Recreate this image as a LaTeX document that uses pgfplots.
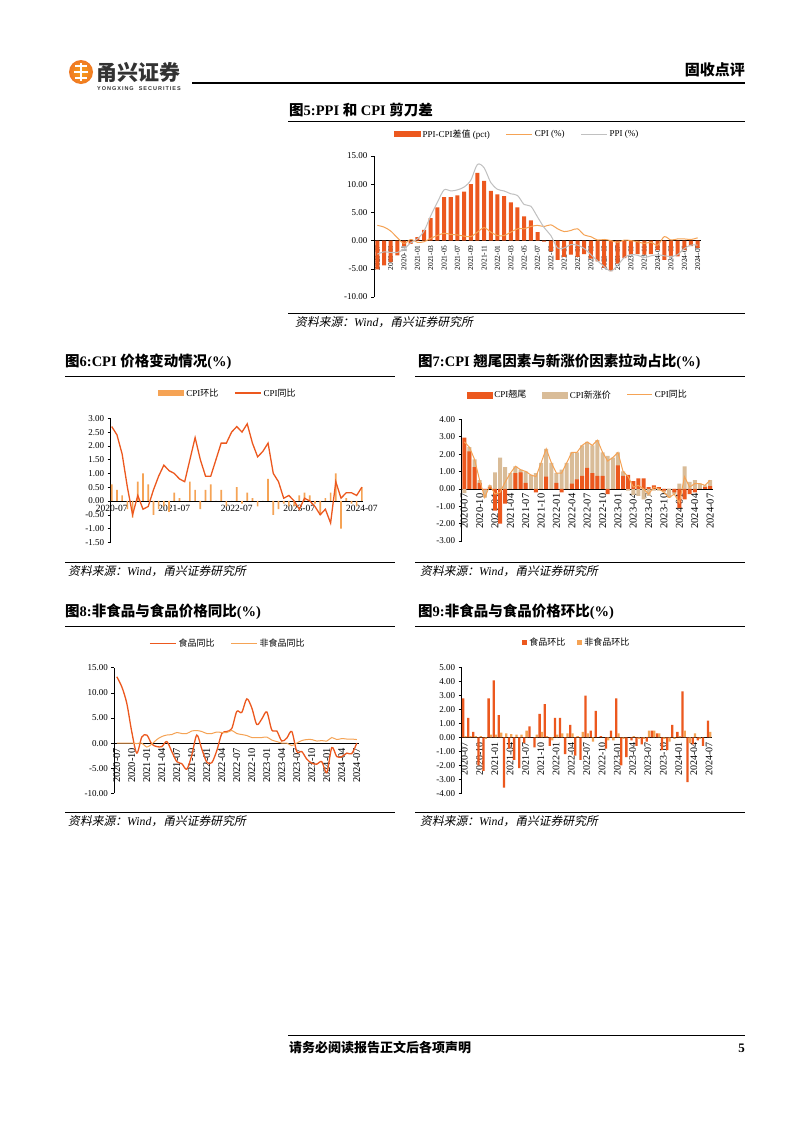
\documentclass[border=0pt]{standalone}
\usepackage{fontspec}
\usepackage{pgfplots}
\usepackage{pgfplotstable}
\pgfplotsset{compat=1.18}
\setmainfont{Liberation Serif}
\setsansfont{Liberation Sans}
\newfontfamily\cjk{Noto Sans CJK SC}
\newfontfamily\cjkit[FakeSlant=0.2]{Noto Sans CJK SC}
\newfontfamily\logofont[LetterSpace=18]{Liberation Sans}
\newcommand\zh[1]{{\cjk #1}}
\definecolor{cRed}{RGB}{236,88,30}
\definecolor{cOrg}{RGB}{245,163,85}
\definecolor{cTan}{RGB}{217,188,152}
\definecolor{cGry}{RGB}{192,192,192}
\definecolor{cLogo}{RGB}{240,120,35}

% Fig 5: PPI-CPI
\pgfplotstableread{
i d cpi ppi
0 -5.1 2.7 -2.4
1 -4.4 2.4 -2.0
2 -3.8 1.7 -2.1
3 -2.6 0.5 -2.1
4 -1.0 -0.5 -1.5
5 -0.6 0.2 -0.4
6 0.6 -0.3 0.3
7 1.9 -0.2 1.7
8 4.0 0.4 4.4
9 5.9 0.9 6.8
10 7.7 1.3 9.0
11 7.7 1.1 8.8
12 8.0 1.0 9.0
13 8.7 0.8 9.5
14 10.0 0.7 10.7
15 12.0 1.5 13.5
16 10.6 2.3 12.9
17 8.8 1.5 10.3
18 8.2 0.9 9.1
19 7.9 0.9 8.8
20 6.8 1.5 8.3
21 5.9 2.1 8.0
22 4.3 2.1 6.4
23 3.6 2.5 6.1
24 1.5 2.7 4.2
25 -0.2 2.5 2.3
26 -1.9 2.8 0.9
27 -3.4 2.1 -1.3
28 -2.9 1.6 -1.3
29 -2.5 1.8 -0.7
30 -2.9 2.1 -0.8
31 -2.4 1.0 -1.4
32 -3.2 0.7 -2.5
33 -3.7 0.1 -3.6
34 -4.8 0.2 -4.6
35 -5.4 0.0 -5.4
36 -4.1 -0.3 -4.4
37 -3.1 0.1 -3.0
38 -2.5 0.0 -2.5
39 -2.4 -0.2 -2.6
40 -2.5 -0.5 -3.0
41 -2.4 -0.3 -2.7
42 -1.7 -0.8 -2.5
43 -3.4 0.7 -2.7
44 -2.9 0.1 -2.8
45 -2.8 0.3 -2.5
46 -1.7 0.3 -1.4
47 -1.0 0.2 -0.8
48 -1.3 0.5 -0.8
}\tFive

% Fig 6 and 7: CPI mom, yoy, carry-over, new-price top
\pgfplotstableread{
i mom yoy c t
0 0.6 2.7 2.95 -0.25
1 0.4 2.4 2.15 2.4
2 0.2 1.7 1.25 1.7
3 -0.3 0.5 0.35 0.5
4 -0.6 -0.5 -0.05 -0.5
5 0.7 0.2 0.1 0.2
6 1.0 -0.3 -1.25 0.95
7 0.6 -0.2 -2.0 1.8
8 -0.5 0.4 -0.85 1.25
9 -0.3 0.9 0.0 0.9
10 -0.2 1.3 0.9 1.3
11 -0.4 1.1 0.95 1.1
12 0.3 1.0 0.35 1.0
13 0.1 0.8 0.0 0.8
14 0.0 0.7 -0.2 0.9
15 0.7 1.5 0.0 1.5
16 0.4 2.3 0.7 2.3
17 -0.3 1.5 0.0 1.5
18 0.4 0.9 0.35 0.9
19 0.6 0.9 -0.2 1.1
20 0.0 1.5 0.0 1.5
21 0.4 2.1 0.3 2.1
22 -0.2 2.1 0.55 2.1
23 0.0 2.5 0.75 2.5
24 0.5 2.7 1.2 2.7
25 -0.1 2.5 0.9 2.5
26 0.3 2.8 0.75 2.8
27 0.1 2.1 0.75 2.1
28 -0.2 1.6 -0.3 1.9
29 0.0 1.8 0.0 1.8
30 0.8 2.1 1.35 2.1
31 -0.5 1.0 0.75 1.0
32 -0.3 0.7 0.8 -0.1
33 -0.1 0.1 0.45 -0.35
34 -0.2 0.2 0.6 -0.4
35 -0.2 0.0 0.6 -0.6
36 0.2 -0.3 0.1 -0.4
37 0.3 0.1 0.2 -0.1
38 0.2 0.0 0.1 -0.1
39 -0.1 -0.2 -0.1 -0.2
40 -0.5 -0.5 0.0 -0.5
41 0.1 -0.3 -0.2 -0.3
42 0.3 -0.8 -1.1 0.3
43 1.0 0.7 -0.6 1.3
44 -1.0 0.1 -0.3 0.4
45 0.1 0.3 -0.2 0.5
46 -0.1 0.3 0.0 0.3
47 -0.2 0.2 0.1 0.2
48 0.5 0.5 0.15 0.5
}\tSix

% Fig 8 and 9: food / non-food
\pgfplotstableread{
i fy ny fm nm
0 13.2 0.0 2.8 0.1
1 11.2 0.0 1.4 0.1
2 7.9 0.0 0.4 0.1
3 2.2 0.0 -2.0 0.1
4 -2.0 -0.1 -2.4 -0.1
5 1.2 0.0 2.8 0.2
6 1.6 -0.8 4.1 0.2
7 -0.2 -0.2 1.6 0.35
8 -0.7 0.7 -3.6 0.3
9 -0.7 1.3 -0.8 0.25
10 0.3 1.6 -1.6 0.2
11 -1.7 1.7 -2.2 0.2
12 -3.7 2.1 -0.4 0.5
13 -4.1 1.9 0.8 0.0
14 -5.2 1.9 -0.7 0.2
15 -2.4 2.4 1.7 0.4
16 1.6 2.5 2.4 0.1
17 -1.2 2.3 -0.6 -0.2
18 -3.8 1.9 1.4 0.2
19 -3.9 1.9 1.4 0.3
20 -1.5 2.2 -1.2 0.3
21 1.9 2.1 0.9 0.3
22 2.3 2.1 -1.3 0.1
23 2.9 2.5 -1.6 0.4
24 6.3 1.9 3.0 0.3
25 6.1 1.7 0.5 -0.3
26 8.8 1.5 1.9 0.0
27 7.0 1.1 0.1 0.0
28 3.7 1.1 -0.8 -0.2
29 4.8 1.1 0.5 -0.2
30 6.2 1.2 2.8 0.3
31 2.6 0.6 -2.0 -0.1
32 2.4 0.3 -1.4 0.0
33 0.4 0.0 -0.2 0.1
34 1.0 0.0 -0.6 -0.1
35 2.3 -0.5 -0.5 -0.1
36 -1.7 0.0 -0.3 0.5
37 -1.7 0.5 0.5 0.5
38 -3.2 0.7 0.3 0.3
39 -4.0 0.7 -0.9 -0.1
40 -4.2 0.4 -0.9 -0.3
41 -3.7 0.5 0.9 -0.1
42 -5.9 0.4 0.4 0.1
43 -0.9 1.1 3.3 0.5
44 -2.7 0.7 -3.2 -0.4
45 -2.7 0.9 -0.5 0.3
46 -2.0 0.8 -0.2 -0.1
47 -2.1 0.8 -0.6 0.0
48 0.0 0.7 1.2 0.4
}\tEight

\pgfplotsset{
  pg/.style={
    scale only axis,
    axis y line=left, axis x line=middle,
    axis line style={-,black,line width=0.5pt},
    tick align=outside, major tick length=3pt,
    tick style={black,line width=0.5pt},
    every major x tick/.append style={draw=none},
    yticklabel style={font=\fontsize{9}{10}\selectfont},
    y tick label style={/pgf/number format/fixed,/pgf/number format/fixed zerofill,/pgf/number format/precision=2,/pgf/number format/assume math mode=true},
    legend style={draw=none,fill=none,font=\fontsize{9}{10}\selectfont,legend columns=-1,anchor=center,/tikz/every even column/.append style={column sep=14pt}},
  },
  rotlab/.style={xticklabel style={rotate=90,anchor=east,font=\fontsize{#1}{#1}\selectfont,inner sep=1.5pt}},
}

\begin{document}
\begin{tikzpicture}[x=1pt,y=1pt]
\useasboundingbox (0,0) rectangle (802,-1133);
\fill[white] (0,0) rectangle (802,-1133);
% header
\shade[inner color=cLogo!70!yellow, outer color=cLogo] (81,-72) circle (12);
\draw[white,line width=1.6pt] (75,-66)--(87,-66) (74,-72)--(88,-72) (75,-78)--(87,-78) (81,-63)--(81,-81);
\node[anchor=west,inner sep=0pt,text=black!80] at (96,-72) {\fontsize{21}{21}\selectfont\cjk\bfseries 甬兴证券};
\node[anchor=west,inner sep=0pt,text=black!80] at (97,-89) {\fontsize{5.5}{5.5}\selectfont\logofont\bfseries YONGXING\ \ SECURITIES};
\draw[line width=1.5pt] (192,-83)--(745,-83);
\node[anchor=east,inner sep=0pt] at (745,-70) {\fontsize{15}{15}\selectfont\cjk\bfseries 固收点评};

% titles and rules
\node[anchor=west,inner sep=0pt] at (289,-110) {\fontsize{14.5}{15}\selectfont\bfseries\zh{图}5:PPI \zh{和} CPI \zh{剪刀差}};
\draw[line width=0.6pt] (288,-121)--(745,-121);
\node[anchor=west,inner sep=0pt] at (65,-362) {\fontsize{14.5}{15}\selectfont\bfseries\zh{图}6:CPI \zh{价格变动情况}(\%)};
\draw[line width=0.6pt] (65,-376)--(395,-376);
\node[anchor=west,inner sep=0pt] at (418,-362) {\fontsize{14.5}{15}\selectfont\bfseries\zh{图}7:CPI \zh{翘尾因素与新涨价因素拉动占比}(\%)};
\draw[line width=0.6pt] (415,-376)--(745,-376);
\node[anchor=west,inner sep=0pt] at (65,-612) {\fontsize{14.5}{15}\selectfont\bfseries\zh{图}8:\zh{非食品与食品价格同比}(\%)};
\draw[line width=0.6pt] (65,-626)--(395,-626);
\node[anchor=west,inner sep=0pt] at (418,-612) {\fontsize{14.5}{15}\selectfont\bfseries\zh{图}9:\zh{非食品与食品价格环比}(\%)};
\draw[line width=0.6pt] (415,-626)--(745,-626);

% sources
\draw[line width=0.6pt] (288,-313)--(745,-313);
\node[anchor=west,inner sep=0pt] at (295,-322) {\fontsize{11.8}{12}\selectfont{\cjkit 资料来源：}{\itshape Wind}{\cjkit ，甬兴证券研究所}};
\draw[line width=0.6pt] (65,-562)--(395,-562);
\node[anchor=west,inner sep=0pt] at (68,-571) {\fontsize{11.8}{12}\selectfont{\cjkit 资料来源：}{\itshape Wind}{\cjkit ，甬兴证券研究所}};
\draw[line width=0.6pt] (415,-562)--(745,-562);
\node[anchor=west,inner sep=0pt] at (420,-571) {\fontsize{11.8}{12}\selectfont{\cjkit 资料来源：}{\itshape Wind}{\cjkit ，甬兴证券研究所}};
\draw[line width=0.6pt] (65,-812)--(395,-812);
\node[anchor=west,inner sep=0pt] at (68,-821) {\fontsize{11.8}{12}\selectfont{\cjkit 资料来源：}{\itshape Wind}{\cjkit ，甬兴证券研究所}};
\draw[line width=0.6pt] (415,-812)--(745,-812);
\node[anchor=west,inner sep=0pt] at (420,-821) {\fontsize{11.8}{12}\selectfont{\cjkit 资料来源：}{\itshape Wind}{\cjkit ，甬兴证券研究所}};

% footer
\draw[line width=1pt] (288,-1035)--(745,-1035);
\node[anchor=west,inner sep=0pt] at (289,-1048) {\fontsize{13}{13}\selectfont\cjk\bfseries 请务必阅读报告正文后各项声明};
\node[anchor=east,inner sep=0pt] at (745,-1048) {\fontsize{13}{13}\selectfont\bfseries 5};

% ===== Fig 5 =====
\begin{axis}[pg, rotlab=7.5, at={(374pt,-297pt)}, anchor=south west, width=327pt, height=141pt,
  xmin=-0.5, xmax=48.5, ymin=-10, ymax=15, ytick={-10,-5,0,5,10,15},
  xtick={0,2,...,48},
  xticklabels={2020-07,2020-09,2020-11,2021-01,2021-03,2021-05,2021-07,2021-09,2021-11,2022-01,2022-03,2022-05,2022-07,2022-09,2022-11,2023-01,2023-03,2023-05,2023-07,2023-09,2023-11,2024-01,2024-03,2024-05,2024-07},
  legend style={at={(0.437,1.156)}}]
\addplot[ybar, bar width=0.6, fill=cRed, draw=none, legend image code/.code={\fill[cRed] (0pt,-3pt) rectangle (27pt,3pt);}] table[x=i,y=d]{\tFive};
\addlegendentry{PPI-CPI\zh{差值} (pct)}
\addplot[smooth, cOrg, line width=1pt, legend image code/.code={\draw[cOrg,line width=1pt] (0pt,0pt)--(26pt,0pt);}] table[x=i,y=cpi]{\tFive};
\addlegendentry{CPI (\%)}
\addplot[smooth, cGry, line width=1pt, legend image code/.code={\draw[cGry,line width=1pt] (0pt,0pt)--(26pt,0pt);}] table[x=i,y=ppi]{\tFive};
\addlegendentry{PPI (\%)}
\end{axis}

% ===== Fig 6 =====
\begin{axis}[pg, at={(110.7pt,-542.3pt)}, anchor=south west, width=252.2pt, height=124pt,
  xmin=-0.2, xmax=48.2, ymin=-1.5, ymax=3, ytick={-1.5,-1,-0.5,0,0.5,1,1.5,2,2.5,3},
  xtick={0,12,24,36,48}, xticklabels={2020-07,2021-07,2022-07,2023-07,2024-07},
  xticklabel style={font=\fontsize{9.5}{10}\selectfont,inner sep=1.5pt},
  legend style={at={(0.465,1.204)}}]
\addplot[ybar, bar width=0.32, fill=cOrg, draw=none, legend image code/.code={\fill[cOrg] (0pt,-3pt) rectangle (26pt,3pt);}] table[x=i,y=mom]{\tSix};
\addlegendentry{CPI\zh{环比}}
\addplot[cRed, line width=1.3pt, legend image code/.code={\draw[cRed,line width=1.3pt] (0pt,0pt)--(26pt,0pt);}] table[x=i,y=yoy]{\tSix};
\addlegendentry{CPI\zh{同比}}
\end{axis}

% ===== Fig 7 =====
\begin{axis}[pg, rotlab=10.5, at={(461.7pt,-541pt)}, anchor=south west, width=251pt, height=121.7pt,
  xmin=-0.5, xmax=48.5, ymin=-3, ymax=4, ytick={-3,-2,-1,0,1,2,3,4},
  xtick={0,3,...,48},
  xticklabels={2020-07,2020-10,2021-01,2021-04,2021-07,2021-10,2022-01,2022-04,2022-07,2022-10,2023-01,2023-04,2023-07,2023-10,2024-01,2024-04,2024-07},
  legend style={at={(0.463,1.2)}}]
\addplot[ybar, bar width=0.78, fill=cTan, draw=none, forget plot] table[x=i,y=t]{\tSix};
\addplot[ybar, bar width=0.78, fill=cRed, draw=none, forget plot] table[x=i,y=c]{\tSix};
\addplot[cOrg, line width=1pt, forget plot] table[x=i,y=yoy]{\tSix};
\addlegendimage{legend image code/.code={\fill[cRed] (0pt,-3pt) rectangle (25pt,3pt);}}
\addlegendentry{CPI\zh{翘尾}}
\addlegendimage{legend image code/.code={\fill[cTan] (0pt,-3pt) rectangle (25pt,3pt);}}
\addlegendentry{CPI\zh{新涨价}}
\addlegendimage{legend image code/.code={\draw[cOrg,line width=1pt] (0pt,0pt)--(25pt,0pt);}}
\addlegendentry{CPI\zh{同比}}
\end{axis}

% ===== Fig 8 =====
\begin{axis}[pg, rotlab=10.5, at={(114.3pt,-793.3pt)}, anchor=south west, width=245pt, height=125.6pt,
  xmin=-0.5, xmax=48.5, ymin=-10, ymax=15, ytick={-10,-5,0,5,10,15},
  xtick={0,3,...,48},
  xticklabels={2020-07,2020-10,2021-01,2021-04,2021-07,2021-10,2022-01,2022-04,2022-07,2022-10,2023-01,2023-04,2023-07,2023-10,2024-01,2024-04,2024-07},
  legend style={at={(0.464,1.194)}}]
\addplot[smooth, cRed, line width=1.3pt, legend image code/.code={\draw[cRed,line width=1.3pt] (0pt,0pt)--(26pt,0pt);}] table[x=i,y=fy]{\tEight};
\addlegendentry{\zh{食品同比}}
\addplot[smooth, cOrg, line width=1pt, legend image code/.code={\draw[cOrg,line width=1pt] (0pt,0pt)--(26pt,0pt);}] table[x=i,y=ny]{\tEight};
\addlegendentry{\zh{非食品同比}}
\end{axis}

% ===== Fig 9 =====
\begin{axis}[pg, rotlab=10, at={(461.7pt,-793.3pt)}, anchor=south west, width=250pt, height=125.6pt,
  xmin=-0.5, xmax=48.5, ymin=-4, ymax=5, ytick={-4,-3,-2,-1,0,1,2,3,4,5},
  xtick={0,3,...,48},
  xticklabels={2020-07,2020-10,2021-01,2021-04,2021-07,2021-10,2022-01,2022-04,2022-07,2022-10,2023-01,2023-04,2023-07,2023-10,2024-01,2024-04,2024-07},
  ybar=0pt, bar width=0.45,
  legend style={at={(0.461,1.199)},/tikz/every even column/.append style={column sep=10pt}}]
\addplot[fill=cRed, draw=none, legend image code/.code={\fill[cRed] (0pt,-2.5pt) rectangle (5pt,2.5pt);}] table[x=i,y=fm]{\tEight};
\addlegendentry{\zh{食品环比}}
\addplot[fill=cOrg, draw=none, legend image code/.code={\fill[cOrg] (0pt,-2.5pt) rectangle (5pt,2.5pt);}] table[x=i,y=nm]{\tEight};
\addlegendentry{\zh{非食品环比}}
\end{axis}
\end{tikzpicture}
\end{document}
